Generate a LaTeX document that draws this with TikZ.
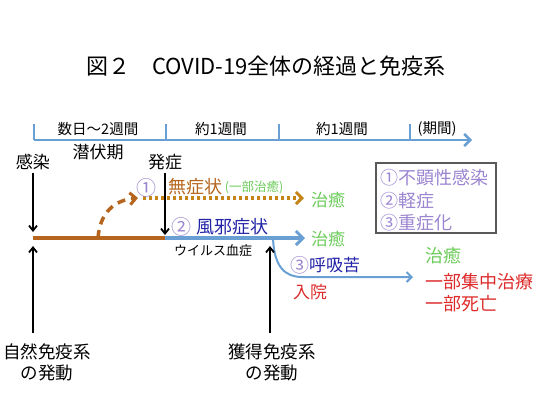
\documentclass[tikz,border=0pt]{standalone}
\usepackage{fontspec}
\setmainfont{Noto Sans CJK JP}
\usetikzlibrary{arrows.meta}
\definecolor{axblue}{HTML}{6A9FD4}
\definecolor{brn}{HTML}{B5651D}
\definecolor{purp}{HTML}{9B85D0}
\definecolor{dblue}{HTML}{2323A8}
\definecolor{grn}{HTML}{6CCB5A}
\definecolor{rd}{HTML}{DD2A2A}
\tikzset{
  lbl/.style={inner sep=0pt, outer sep=0pt, font=\fontsize{#1}{#1}\selectfont},
  lbl/.default=17,
  blk/.style={draw=black, line width=1.8pt, -{Straight Barb[length=5pt,width=8pt]}},
  barb/.style={-{Straight Barb[length=6pt,width=12pt,line width=2.5pt]}},
}
\begin{document}
\begin{tikzpicture}[x=1pt,y=-1pt]
\useasboundingbox (0,0) rectangle (540,405);
% title
\node[lbl=22] (title) at (266,66) {図２　COVID-19全体の経過と免疫系};
% timeline axis
\coordinate (a0) at (34,140);
\coordinate (aE) at (472,140);
\draw[axblue, line width=2.5pt, barb] (a0) -- (aE);
\foreach \x/\n in {34/t1,166/t2,279/t3,410/t4}{
  \coordinate (\n) at (\x,124);
  \draw[axblue, line width=2.5pt] (\n) -- (\x,140);
}
\node[lbl=14.5] (p1) at (98,129) {数日～2週間};
\node[lbl=14.5] (p2) at (221,129) {約1週間};
\node[lbl=14.5] (p3) at (342,129) {約1週間};
\node[lbl=14.5] (p4) at (437,129) {(期間)};
\node[lbl=17] (senpuku) at (98,152) {潜伏期};
% infection / onset
\node[lbl=17] (kansen) at (33,162) {感染};
\node[lbl=17] (hassho) at (165,162) {発症};
\coordinate (k0) at (33,238);
\coordinate (h0) at (165,238);
\draw[blk] (kansen.south) ++(0,3) -- (33,232);
\draw[blk] (hassho.south) ++(0,3) -- (165,235);
% main brown line and blue continuation
\draw[brn, line width=4pt] (k0) -- (h0);
\coordinate (mainE) at (305,238);
\draw[axblue, line width=4pt, -{Straight Barb[length=7pt,width=14pt,line width=3pt]}] (h0) -- (mainE);
% asymptomatic branch
\coordinate (d0) at (98,238);
\coordinate (d1) at (138,198);
\coordinate (d2) at (304,198);
\draw[brn, line width=3.5pt, dash pattern=on 8pt off 6pt, -{Straight Barb[length=6pt,width=12pt,line width=3pt]}]
  (d0) .. controls (100,212) and (115,200) .. (d1);
\draw[brn!80!yellow, line width=3.5pt, dash pattern=on 3pt off 3pt, -{Straight Barb[length=6pt,width=12pt,line width=3pt]}]
  (143,198) -- (d2);
\node[lbl=20, text=purp] (c1) at (146,188) {①};
\node[lbl=18, text=brn] (mushojo) at (195,187) {無症状};
\node[lbl=12.5, text=grn] (ichibu) at (254,187) {(一部治癒)};
\node[lbl=17, text=grn] (chiyu1) at (328,200) {治癒};
% mild
\node[lbl=20, text=purp] (c2) at (181,227) {②};
\node[lbl=18, text=dblue] (kaze) at (232,227) {風邪症状};
\node[lbl=13] (virus) at (213,251) {ウイルス血症};
\node[lbl=17, text=grn] (chiyu2) at (328,239) {治癒};
% severe branch
\coordinate (s0) at (273,238);
\coordinate (s1) at (413,277);
\draw[axblue, line width=2pt, -{Straight Barb[length=5pt,width=10pt,line width=2pt]}]
  (s0) .. controls (274,268) and (286,277) .. (302,277) -- (s1);
\node[lbl=19, text=purp] (c3) at (300,265) {③};
\node[lbl=17, text=dblue, anchor=west] (kokyu) at (309,265) {呼吸苦};
\node[lbl=17, text=rd] (nyuin) at (310,292) {入院};
\node[lbl=18, text=grn, anchor=west] (chiyu3) at (425,256) {治癒};
\node[lbl=18, text=rd, anchor=west] (shuchu) at (425,282) {一部集中治療};
\node[lbl=18, text=rd, anchor=west] (shibo) at (425,304) {一部死亡};
% legend box
\node[draw=gray!70!black, line width=1.2pt, minimum width=120pt, minimum height=70pt] (box) at (436,198) {};
\node[lbl=18, text=purp, anchor=west] (b1) at (380,178) {①不顕性感染};
\node[lbl=18, text=purp, anchor=west] (b2) at (380,201) {②軽症};
\node[lbl=18, text=purp, anchor=west] (b3) at (380,223) {③重症化};
% immune system arrows
\node[lbl=17.5] (nat1) at (47,352) {自然免疫系};
\node[lbl=17.5] (nat2) at (47,373) {の発動};
\node[lbl=17.5] (acq1) at (272,352) {獲得免疫系};
\node[lbl=17.5] (acq2) at (272,373) {の発動};
\draw[blk] (33,333) -- (33,246);
\draw[blk] (270,333) -- (270,246);
\end{tikzpicture}
\end{document}
